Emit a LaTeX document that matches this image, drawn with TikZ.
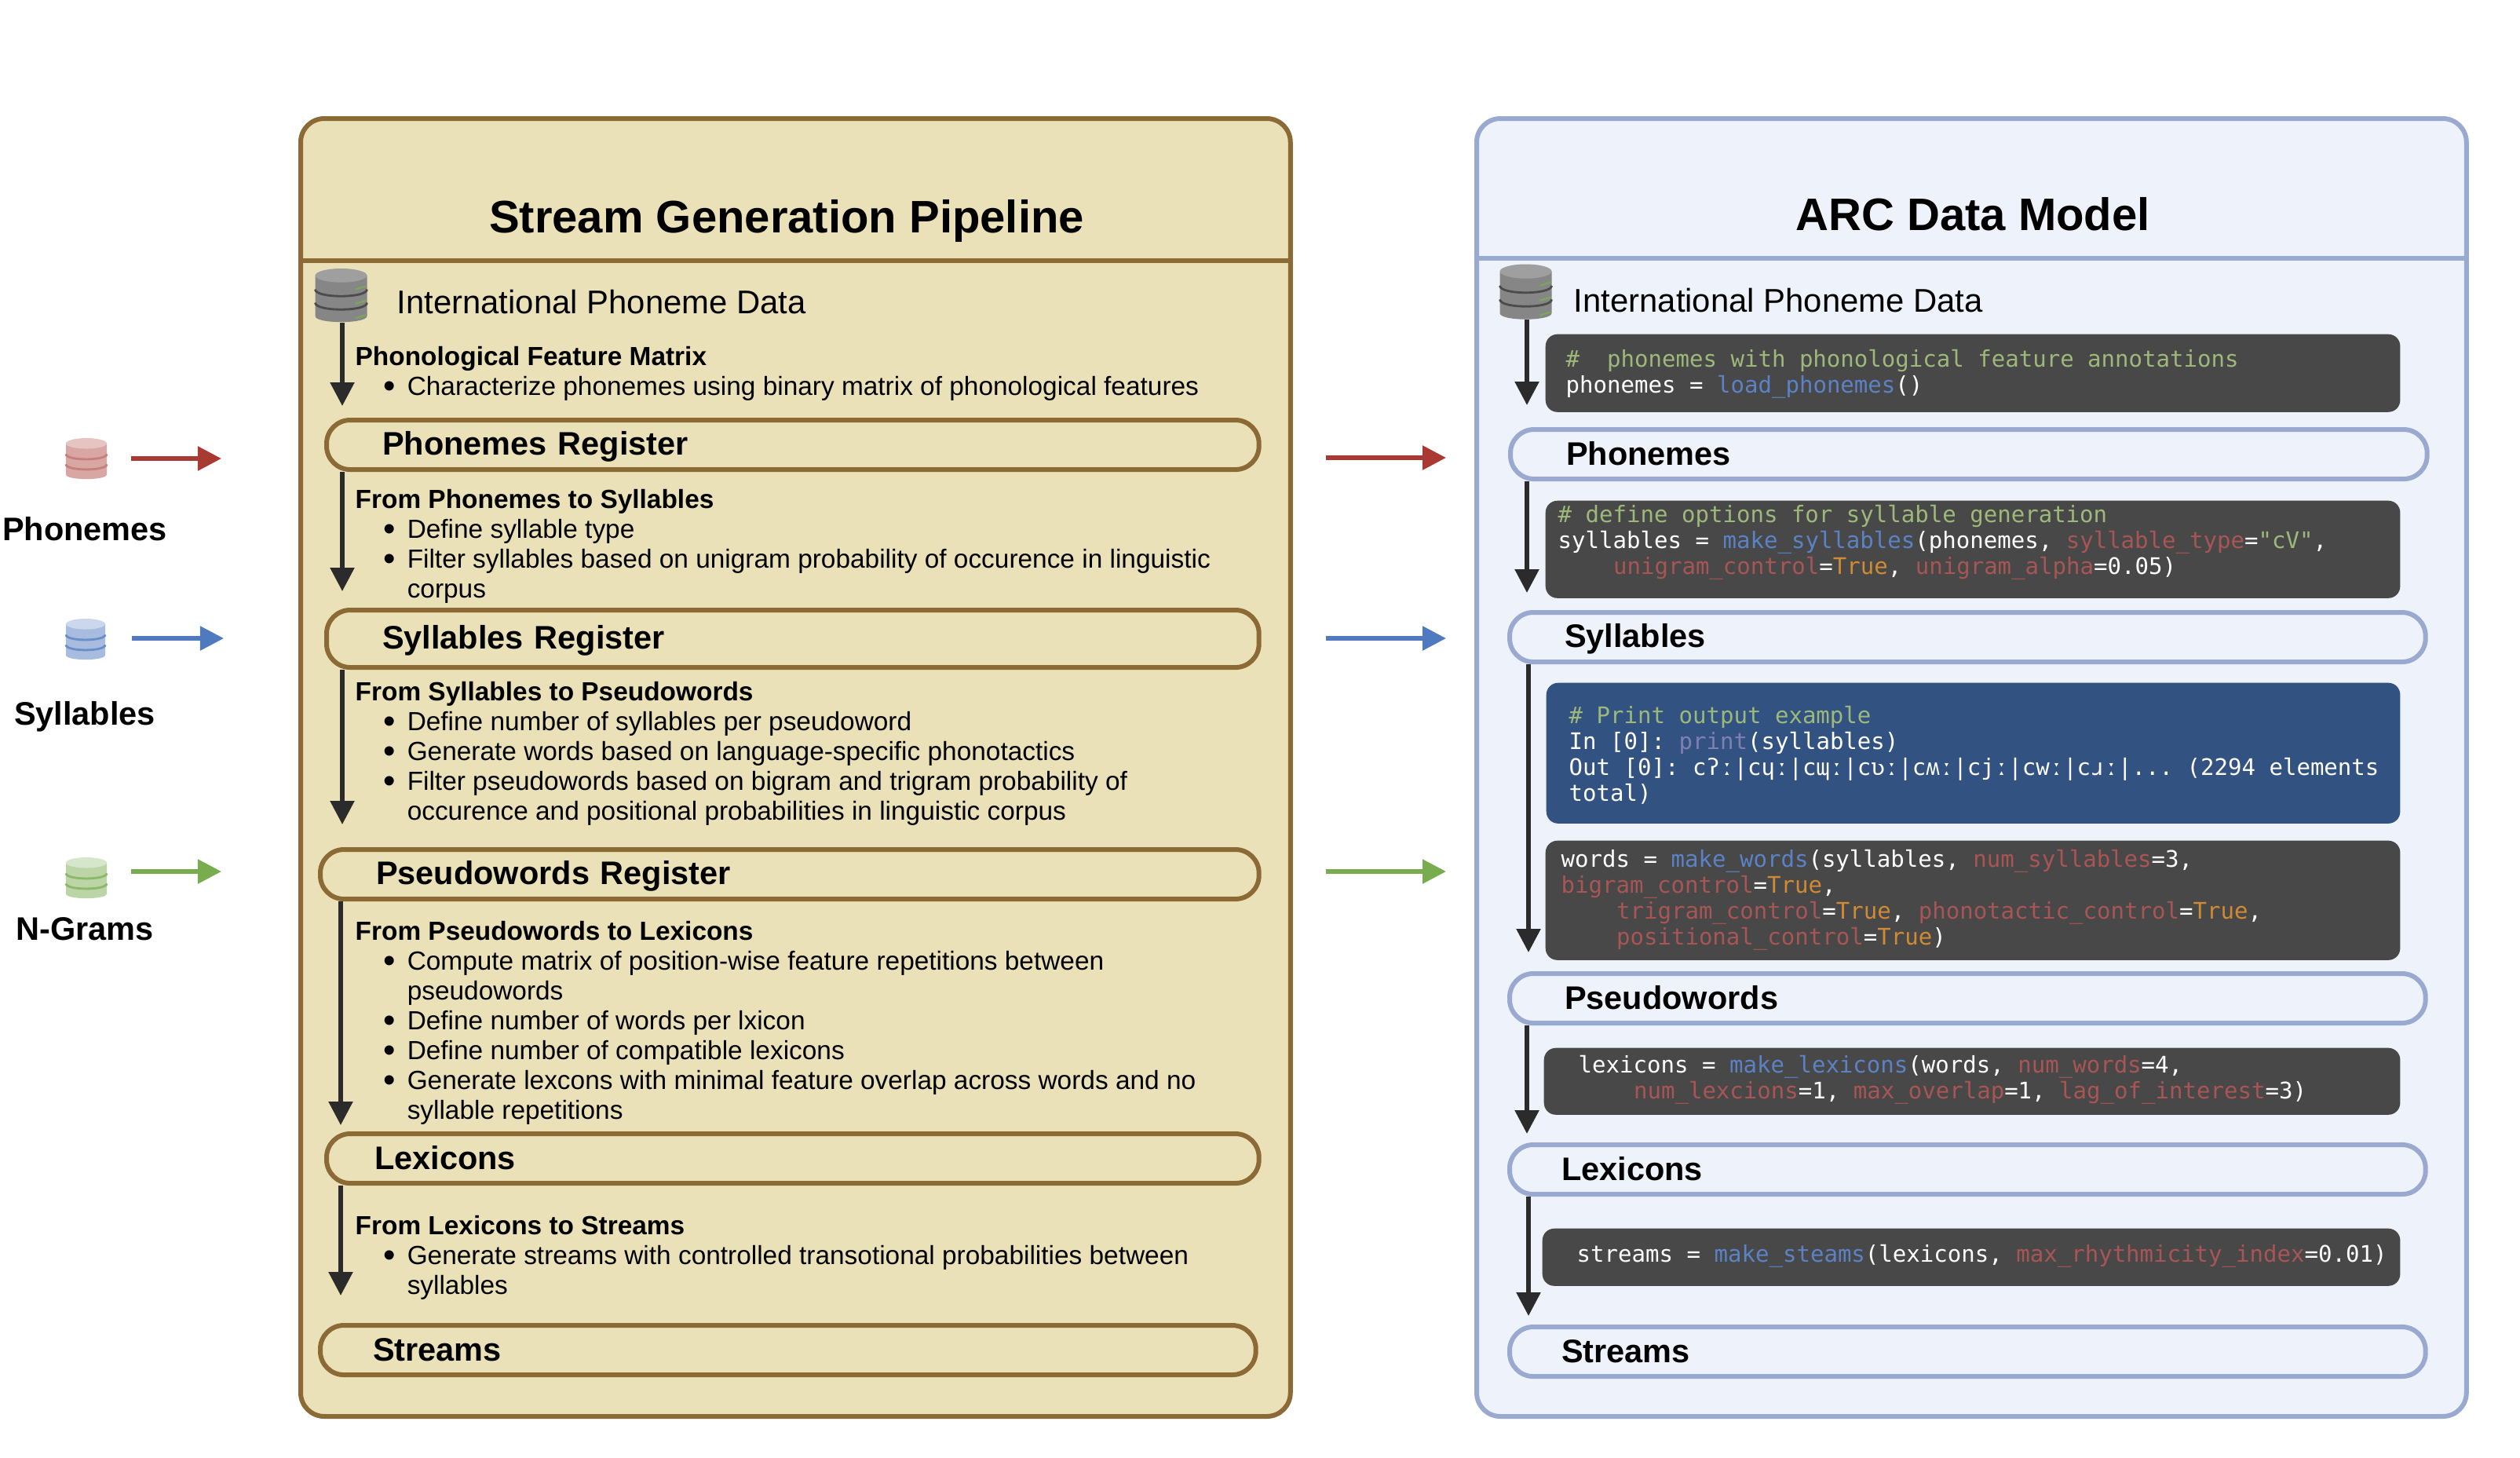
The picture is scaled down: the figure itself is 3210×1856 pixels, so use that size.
\documentclass[tikz,border=0pt]{standalone}
\usepackage{fontspec}
\setmainfont{Liberation Sans}
\newfontfamily\codefont{DejaVu Sans Mono}
\usetikzlibrary{arrows.meta, positioning, calc}
\definecolor{pipefill}{HTML}{EBE1B8}
\definecolor{pipeline}{HTML}{8B6A35}
\definecolor{modelfill}{HTML}{EEF2FA}
\definecolor{modelline}{HTML}{9AA9CF}
\definecolor{codegrey}{HTML}{484848}
\definecolor{codeblue}{HTML}{325282}
\definecolor{flowdark}{HTML}{2B2B2B}
\definecolor{flowred}{HTML}{A93A33}
\definecolor{flowblue}{HTML}{4F7AC0}
\definecolor{flowgreen}{HTML}{78AC4F}
\definecolor{cmtgreen}{HTML}{9DB87A}
\definecolor{fnblue}{HTML}{5B82C4}
\definecolor{argred}{HTML}{A85555}
\definecolor{trueorange}{HTML}{CF8A35}
\definecolor{printpurple}{HTML}{8080B0}
\newcommand{\codecmt}[1]{\textcolor{cmtgreen}{#1}}
\newcommand{\codefn}[1]{\textcolor{fnblue}{#1}}
\newcommand{\codearg}[1]{\textcolor{argred}{#1}}
\newcommand{\codetrue}{\textcolor{trueorange}{True}}
\newcommand{\codeindent}{\hspace*{.703cm}}
\newcommand{\bitem}{\hspace*{.36cm}\makebox[.30cm][l]{\fontsize{12.5}{10}\selectfont\raisebox{-.12ex}{\textbullet}}}
\newcommand{\bcont}{\hspace*{.66cm}}
% name, x, y, half width, half height, top, body, lines, ticks
\newcommand{\dbstack}[9]{
  \node[dbnode, minimum width=#4*.02cm, minimum height=#5*.02cm] (#1) at (#2,#3) {};
  \begin{scope}[shift={(#2,#3)}, xscale=#4, yscale=#5]
    \fill[#7] (-1,-.74) -- (-1,.78) .. controls (-1,1.08) and (1,1.08) .. (1,.78)
      -- (1,-.74) -- cycle;
    \fill[#6] (0,-.74) ellipse [x radius=1, y radius=.26];
    \foreach \ylev in {-.22,.28} {
      \draw[#8, line width=.028cm] (-1,\ylev) .. controls (-1,\ylev+.34) and (1,\ylev+.34) .. (1,\ylev);
    }
    \foreach \ylev in {-.3,.24,.78} {
      \draw[#9, line width=.02cm] (.55,\ylev+.08) -- (.95,\ylev-.04);
    }
  \end{scope}
}
\tikzset{
  dbnode/.style={inner sep=0pt},
  panelbox/.style={draw=#1, line width=.06cm, rounded corners=.3cm, anchor=north west,
    minimum width=12.60cm, minimum height=16.52cm},
  pillbox/.style 2 args={line width=.06cm, rounded corners=.3cm, anchor=north west,
    minimum height=.63cm, minimum width=#1cm, inner xsep=#2cm, inner ysep=0pt,
    text width=#1cm-2*#2cm, align=left, font=\fontsize{11.8}{14}\selectfont\bfseries,
    execute at begin node={\rule[-2pt]{0pt}{12pt}}},
  stepdesc/.style={anchor=north west, inner sep=0pt, align=left,
    font=\fontsize{9.5}{10.8}\selectfont},
  codebox/.style={fill=codegrey, rounded corners=.15cm, anchor=north west, inner sep=0pt},
  codetext/.style={anchor=north west, inner sep=0pt, align=left, text=white,
    font=\codefont\fontsize{8.26}{9.36}\selectfont\frenchspacing},
  flowarrow/.style={draw=#1, line width=.055cm, -{Triangle[length=.3cm, width=.3cm, fill=#1]}},
  paneltitle/.style={font=\fontsize{16.5}{20}\selectfont\bfseries, inner sep=0pt},
  sourcedata/.style={font=\fontsize{11.9}{14}\selectfont, anchor=west, inner sep=0pt},
  sidelabel/.style={font=\fontsize{11.8}{14}\selectfont\bfseries, inner sep=0pt}
}
\begin{document}
\begin{tikzpicture}[x=.01cm, y=-.01cm]
  \useasboundingbox (0,0) rectangle (3210,1856);
  % left panel
  \node[panelbox=pipeline, fill=pipefill] (pipe) at (380,148) {};
  \draw[pipeline, line width=.06cm] (pipe.west |- 0,332) -- (pipe.east |- 0,332);
  \node[paneltitle] (pipetitle) at (1002,281) {Stream Generation Pipeline};
  \dbstack{ipdleft}{434.5}{376}{33}{34}{gray!75}{gray!95}{black!70}{flowgreen}
  \node[sourcedata] (ipdlefttext) at (505,385) {International Phoneme Data};

  \node[stepdesc] (descfeat) at (452,438) {\strut\textbf{Phonological Feature Matrix}\\
    \bitem Characterize phonemes using binary matrix of phonological features};
  \node[pillbox={11.87}{.71}, draw=pipeline] (regphon) at (413,532) {Phonemes Register};
  \node[stepdesc] (descsyl) at (452,620) {\strut\textbf{From Phonemes to Syllables}\\
    \bitem Define syllable type\\
    \bitem Filter syllables based on unigram probability of occurence in linguistic\\
    \bcont corpus};
  \node[pillbox={11.87}{.71}, minimum height=.73cm, draw=pipeline] (regsyl) at (413,774) {Syllables Register};
  \node[stepdesc] (descword) at (452,865) {\strut\textbf{From Syllables to Pseudowords}\\
    \bitem Define number of syllables per pseudoword\\
    \bitem Generate words based on language-specific phonotactics\\
    \bitem Filter pseudowords based on bigram and trigram probability of\\
    \bcont occurence and positional probabilities in linguistic corpus};
  \node[pillbox={11.95}{.71}, draw=pipeline] (regword) at (405,1079) {Pseudowords Register};
  \node[stepdesc] (desclex) at (452,1170) {\strut\textbf{From Pseudowords to Lexicons}\\
    \bitem Compute matrix of position-wise feature repetitions between\\
    \bcont pseudowords\\
    \bitem Define number of words per lxicon\\
    \bitem Define number of compatible lexicons\\
    \bitem Generate lexcons with minimal feature overlap across words and no\\
    \bcont syllable repetitions};
  \node[pillbox={11.87}{.61}, draw=pipeline] (reglex) at (413,1441) {Lexicons};
  \node[stepdesc] (descstream) at (452,1545) {\strut\textbf{From Lexicons to Streams}\\
    \bitem Generate streams with controlled transotional probabilities between\\
    \bcont syllables};
  \node[pillbox={11.91}{.67}, draw=pipeline] (regstream) at (405,1685) {Streams};

  \coordinate (endfeat) at (436,517);
  \coordinate (endsyl) at (436,753);
  \coordinate (endword) at (436,1050);
  \coordinate (endlex) at (434,1433);
  \coordinate (endstream) at (434,1650);
  \draw[flowarrow=flowdark] (ipdleft.south -| endfeat) -- (endfeat);
  \draw[flowarrow=flowdark] (regphon.south -| endsyl) -- (endsyl);
  \draw[flowarrow=flowdark] (regsyl.south -| endword) -- (endword);
  \draw[flowarrow=flowdark] (regword.south -| endlex) -- (endlex);
  \draw[flowarrow=flowdark] (reglex.south -| endstream) -- (endstream);

  % right panel
  \node[panelbox=modelline, fill=modelfill] (model) at (1878,148) {};
  \draw[modelline, line width=.06cm] (model.west |- 0,329) -- (model.east |- 0,329);
  \node[paneltitle] (modeltitle) at (2513,273) {ARC Data Model};
  \dbstack{ipdright}{1943.5}{371.5}{33}{35}{gray!75}{gray!95}{black!70}{flowgreen}
  \node[sourcedata] (ipdrighttext) at (2004,383) {International Phoneme Data};

  \node[codebox, minimum width=10.88cm, minimum height=.99cm] (codefeat) at (1968,425) {};
  \node[codetext] (textfeat) at (1994,444) {\strut\codecmt{\#~~phonemes with phonological feature annotations}\\
    phonemes = \codefn{load\_phonemes}()};
  \node[pillbox={11.67}{.71}, draw=modelline, fill=modelfill] (modphon) at (1921,544) {Phonemes};
  \node[codebox, minimum width=10.88cm, minimum height=1.24cm] (codesyl) at (1968,637) {};
  \node[codetext] (textsyl) at (1984,642) {\strut\codecmt{\# define options for syllable generation}\\
    syllables = \codefn{make\_syllables}(phonemes, \codearg{syllable\_type}=\codecmt{"cV"},\\
    \codeindent\codearg{unigram\_control}=\codetrue, \codearg{unigram\_alpha}=0.05)};
  \node[pillbox={11.66}{.70}, draw=modelline, fill=modelfill] (modsyl) at (1920,777) {Syllables};
  \node[codebox, fill=codeblue, minimum width=10.87cm, minimum height=1.79cm] (codeprint) at (1969,869) {};
  \node[codetext] (textprint) at (1998,898) {\strut\codecmt{\# Print output example}\\
    In [0]: \textcolor{printpurple}{print}(syllables)\\
    Out [0]: cʔː|cɥː|cɰː|cʋː|cʍː|cjː|cwː|cɹː|... (2294 elements\\
    total)};
  \node[codebox, minimum width=10.88cm, minimum height=1.52cm] (codeword) at (1968,1070) {};
  \node[codetext] (textword) at (1988,1081) {\strut words = \codefn{make\_words}(syllables, \codearg{num\_syllables}=3,\\
    \codearg{bigram\_control}=\codetrue,\\
    \codeindent\codearg{trigram\_control}=\codetrue, \codearg{phonotactic\_control}=\codetrue,\\
    \codeindent\codearg{positional\_control}=\codetrue)};
  \node[pillbox={11.66}{.70}, draw=modelline, fill=modelfill] (modword) at (1920,1237) {Pseudowords};
  \node[codebox, minimum width=10.90cm, minimum height=.85cm] (codelex) at (1966,1334) {};
  \node[codetext] (textlex) at (2010,1343) {\strut lexicons = \codefn{make\_lexicons}(words, \codearg{num\_words}=4,\\
    \codeindent\codearg{num\_lexcions}=1, \codearg{max\_overlap}=1, \codearg{lag\_of\_interest}=3)};
  \node[pillbox={11.66}{.66}, draw=modelline, fill=modelfill] (modlex) at (1920,1455) {Lexicons};
  \node[codebox, minimum width=10.92cm, minimum height=.73cm] (codestream) at (1964,1564) {};
  \node[codetext] (textstream) at (2008,1584) {\strut streams = \codefn{make\_steams}(lexicons, \codearg{max\_rhythmicity\_index}=0.01)};
  \node[pillbox={11.66}{.66}, draw=modelline, fill=modelfill] (modstream) at (1920,1687) {Streams};

  \coordinate (endmodphon) at (1945,516);
  \coordinate (endmodsyl) at (1945,755);
  \coordinate (endmodword) at (1947,1213);
  \coordinate (endmodlex) at (1945,1444);
  \coordinate (endmodstream) at (1947,1676);
  \draw[flowarrow=flowdark] (ipdright.south -| endmodphon) -- (endmodphon);
  \draw[flowarrow=flowdark] (modphon.south -| endmodsyl) -- (endmodsyl);
  \draw[flowarrow=flowdark] (modsyl.south -| endmodword) -- (endmodword);
  \draw[flowarrow=flowdark] (modword.south -| endmodlex) -- (endmodlex);
  \draw[flowarrow=flowdark] (modlex.south -| endmodstream) -- (endmodstream);

  % sources on the left
  \dbstack{dbphon}{110}{584}{26}{26}{flowred!30}{flowred!45}{flowred!65}{flowred!45}
  \dbstack{dbsyl}{109}{814}{25}{26}{flowblue!30}{flowblue!50}{flowblue!85}{flowblue!50}
  \dbstack{dbgram}{110}{1118}{26}{26}{flowgreen!30}{flowgreen!50}{flowgreen!85}{flowgreen!50}
  \node[sidelabel] (labphon) at (108,674) {Phonemes};
  \node[sidelabel] (labsyl) at (108,913) {Syllables};
  \node[sidelabel] (labgram) at (108,1183) {N-Grams};
  \coordinate (tipphon) at (282,584);
  \coordinate (tipsyl) at (285,813);
  \coordinate (tipgram) at (282,1110);
  \draw[flowarrow=flowred, shorten <=.3cm] (dbphon.east |- tipphon) -- (tipphon);
  \draw[flowarrow=flowblue, shorten <=.33cm] (dbsyl.east |- tipsyl) -- (tipsyl);
  \draw[flowarrow=flowgreen, shorten <=.3cm] (dbgram.east |- tipgram) -- (tipgram);

  % arrows between the panels
  \coordinate (midphon) at (1689,583);
  \coordinate (midsyl) at (1689,813);
  \coordinate (midgram) at (1689,1110);
  \draw[flowarrow=flowred] (midphon) -- (midphon -| 1842,0);
  \draw[flowarrow=flowblue] (midsyl) -- (midsyl -| 1842,0);
  \draw[flowarrow=flowgreen] (midgram) -- (midgram -| 1842,0);
\end{tikzpicture}
\end{document}
